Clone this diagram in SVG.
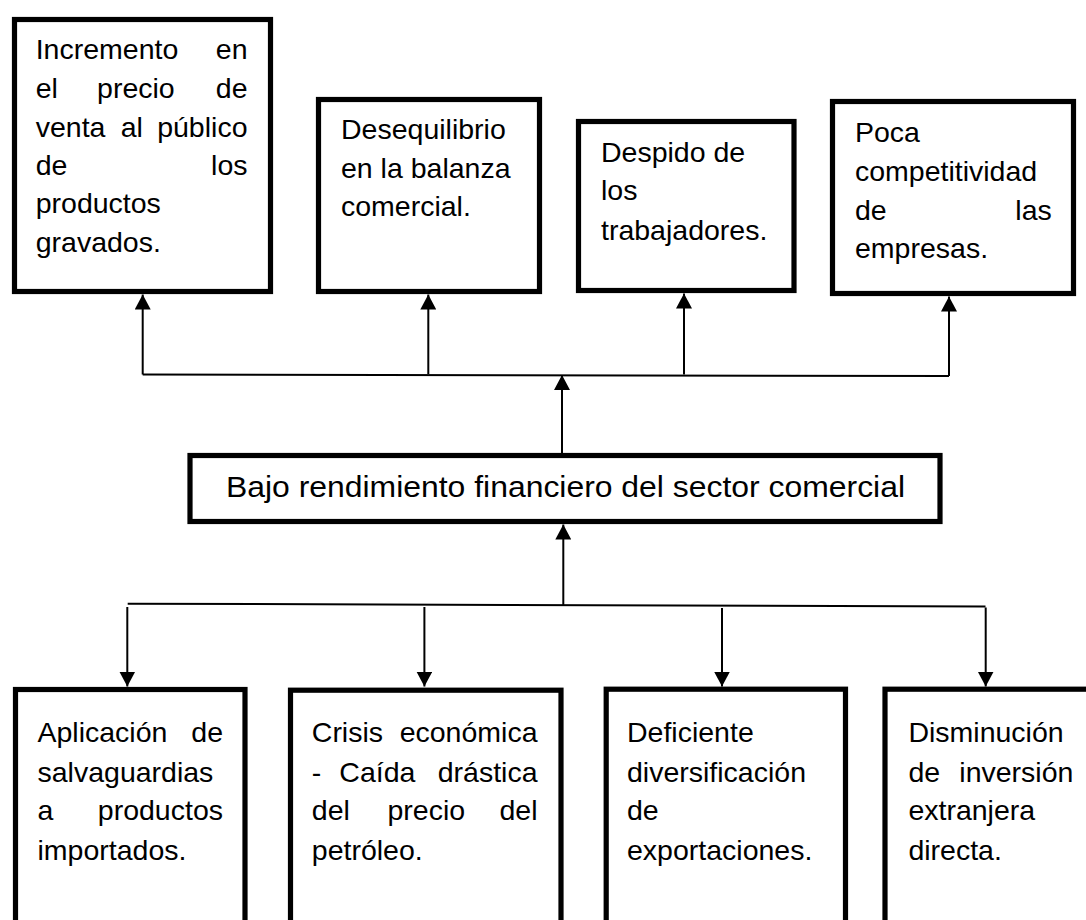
<svg xmlns="http://www.w3.org/2000/svg" width="1086" height="920" viewBox="0 0 1086 920">
<style>
.box{fill:#fff;stroke:#000;stroke-width:5.2}
.t{font-family:"Liberation Sans",Arial,sans-serif;font-size:28.5px;fill:#000}
.e{text-anchor:end}
.c{fill:none;stroke:#000;stroke-width:2}
</style>
<defs>
<marker id="ah" viewBox="0 0 15 16" markerWidth="15" markerHeight="16" refX="15" refY="8" orient="auto" markerUnits="userSpaceOnUse">
<path d="M0,0 L15,8 L0,16 z" fill="#000"/>
</marker>
</defs>
<rect width="1086" height="920" fill="#fff"/>

<g id="connectors">
<line class="c" x1="142.7" y1="374.5" x2="949" y2="376"/>
<line class="c" x1="142.7" y1="374.5" x2="142.7" y2="294.5" marker-end="url(#ah)"/>
<line class="c" x1="428.3" y1="374" x2="428.3" y2="294.5" marker-end="url(#ah)"/>
<line class="c" x1="684" y1="374.5" x2="684" y2="293.5" marker-end="url(#ah)"/>
<line class="c" x1="949" y1="376" x2="949" y2="296.5" marker-end="url(#ah)"/>
<line class="c" x1="562" y1="453" x2="562" y2="375" marker-end="url(#ah)"/>
<line class="c" x1="127.7" y1="603.7" x2="985.5" y2="606.5"/>
<line class="c" x1="563.3" y1="605" x2="563.3" y2="524.5" marker-end="url(#ah)"/>
<line class="c" x1="127.3" y1="607" x2="127.3" y2="686.5" marker-end="url(#ah)"/>
<line class="c" x1="424.4" y1="607" x2="424.4" y2="686.5" marker-end="url(#ah)"/>
<line class="c" x1="722" y1="608" x2="722" y2="686.5" marker-end="url(#ah)"/>
<line class="c" x1="985.7" y1="607.5" x2="985.7" y2="686.5" marker-end="url(#ah)"/>
</g>

<g id="n1">
<rect class="box" x="14.5" y="19.5" width="256" height="272"/>
<text class="t"><tspan x="35.7" y="59.3">Incremento</tspan></text>
<text class="t e" x="247.5" y="59.3">en</text>
<text class="t" y="98.3"><tspan x="35.7">el</tspan><tspan x="97.1">precio</tspan></text>
<text class="t e" x="247.5" y="98.3">de</text>
<text class="t" y="136.7"><tspan x="35.7">venta</tspan><tspan x="120.7">al</tspan></text>
<text class="t e" x="247.5" y="136.7">público</text>
<text class="t" x="35.7" y="175">de</text>
<text class="t e" x="247.5" y="175">los</text>
<text class="t" x="35.7" y="213.3">productos</text>
<text class="t" x="35.7" y="251.7">gravados.</text>
</g>

<g id="n2">
<rect class="box" x="318.5" y="99.5" width="221" height="192"/>
<text class="t" x="341" y="139.3">Desequilibrio</text>
<text class="t" x="341" y="177.7">en la balanza</text>
<text class="t" x="341" y="216">comercial.</text>
</g>

<g id="n3">
<rect class="box" x="578.5" y="121.5" width="215.5" height="169"/>
<text class="t" x="601" y="161.7">Despido de</text>
<text class="t" x="601" y="200">los</text>
<text class="t" x="601" y="239.5">trabajadores.</text>
</g>

<g id="n4">
<rect class="box" x="832.5" y="101.5" width="241" height="192"/>
<text class="t" x="855" y="141.7">Poca</text>
<text class="t" x="855" y="181">competitividad</text>
<text class="t" x="855" y="220">de</text>
<text class="t e" x="1051.8" y="220">las</text>
<text class="t" x="855" y="258.3">empresas.</text>
</g>

<g id="center">
<rect class="box" x="190" y="455.5" width="750" height="66"/>
<text x="226" y="497.3" font-family="Liberation Sans, Arial, sans-serif" font-size="30" textLength="679" lengthAdjust="spacingAndGlyphs">Bajo rendimiento financiero del sector comercial</text>
</g>

<g id="b1">
<rect class="box" x="15.5" y="689.5" width="229.5" height="260"/>
<text class="t" x="37.5" y="741.7">Aplicación</text>
<text class="t e" x="223" y="741.7">de</text>
<text class="t" x="37.5" y="781.7">salvaguardias</text>
<text class="t" x="37.5" y="820">a</text>
<text class="t e" x="223" y="820">productos</text>
<text class="t" x="37.5" y="859.5">importados.</text>
</g>

<g id="b2">
<rect class="box" x="290.5" y="690.2" width="270.5" height="260"/>
<text class="t" x="311.8" y="741.7">Crisis</text>
<text class="t e" x="537.5" y="741.7">económica</text>
<text class="t" y="781.7"><tspan x="311.8">-</tspan><tspan x="339.3">Caída</tspan></text>
<text class="t e" x="537.5" y="781.7">drástica</text>
<text class="t" y="820"><tspan x="311.8">del</tspan><tspan x="387.5">precio</tspan></text>
<text class="t e" x="537.5" y="820">del</text>
<text class="t" x="311.8" y="859.5">petróleo.</text>
</g>

<g id="b3">
<rect class="box" x="606.2" y="689.2" width="239.3" height="260"/>
<text class="t" x="627" y="741.7">Deficiente</text>
<text class="t" x="627" y="781.7">diversificación</text>
<text class="t" x="627" y="820">de</text>
<text class="t" x="627" y="859.5">exportaciones.</text>
</g>

<g id="b4">
<rect class="box" x="885" y="689.2" width="250" height="260"/>
<text class="t" x="908.4" y="741.7">Disminución</text>
<text class="t" x="908.4" y="781.7">de</text>
<text class="t e" x="1073.4" y="781.7">inversión</text>
<text class="t" x="908.4" y="820">extranjera</text>
<text class="t" x="908.4" y="859.5">directa.</text>
</g>
</svg>
